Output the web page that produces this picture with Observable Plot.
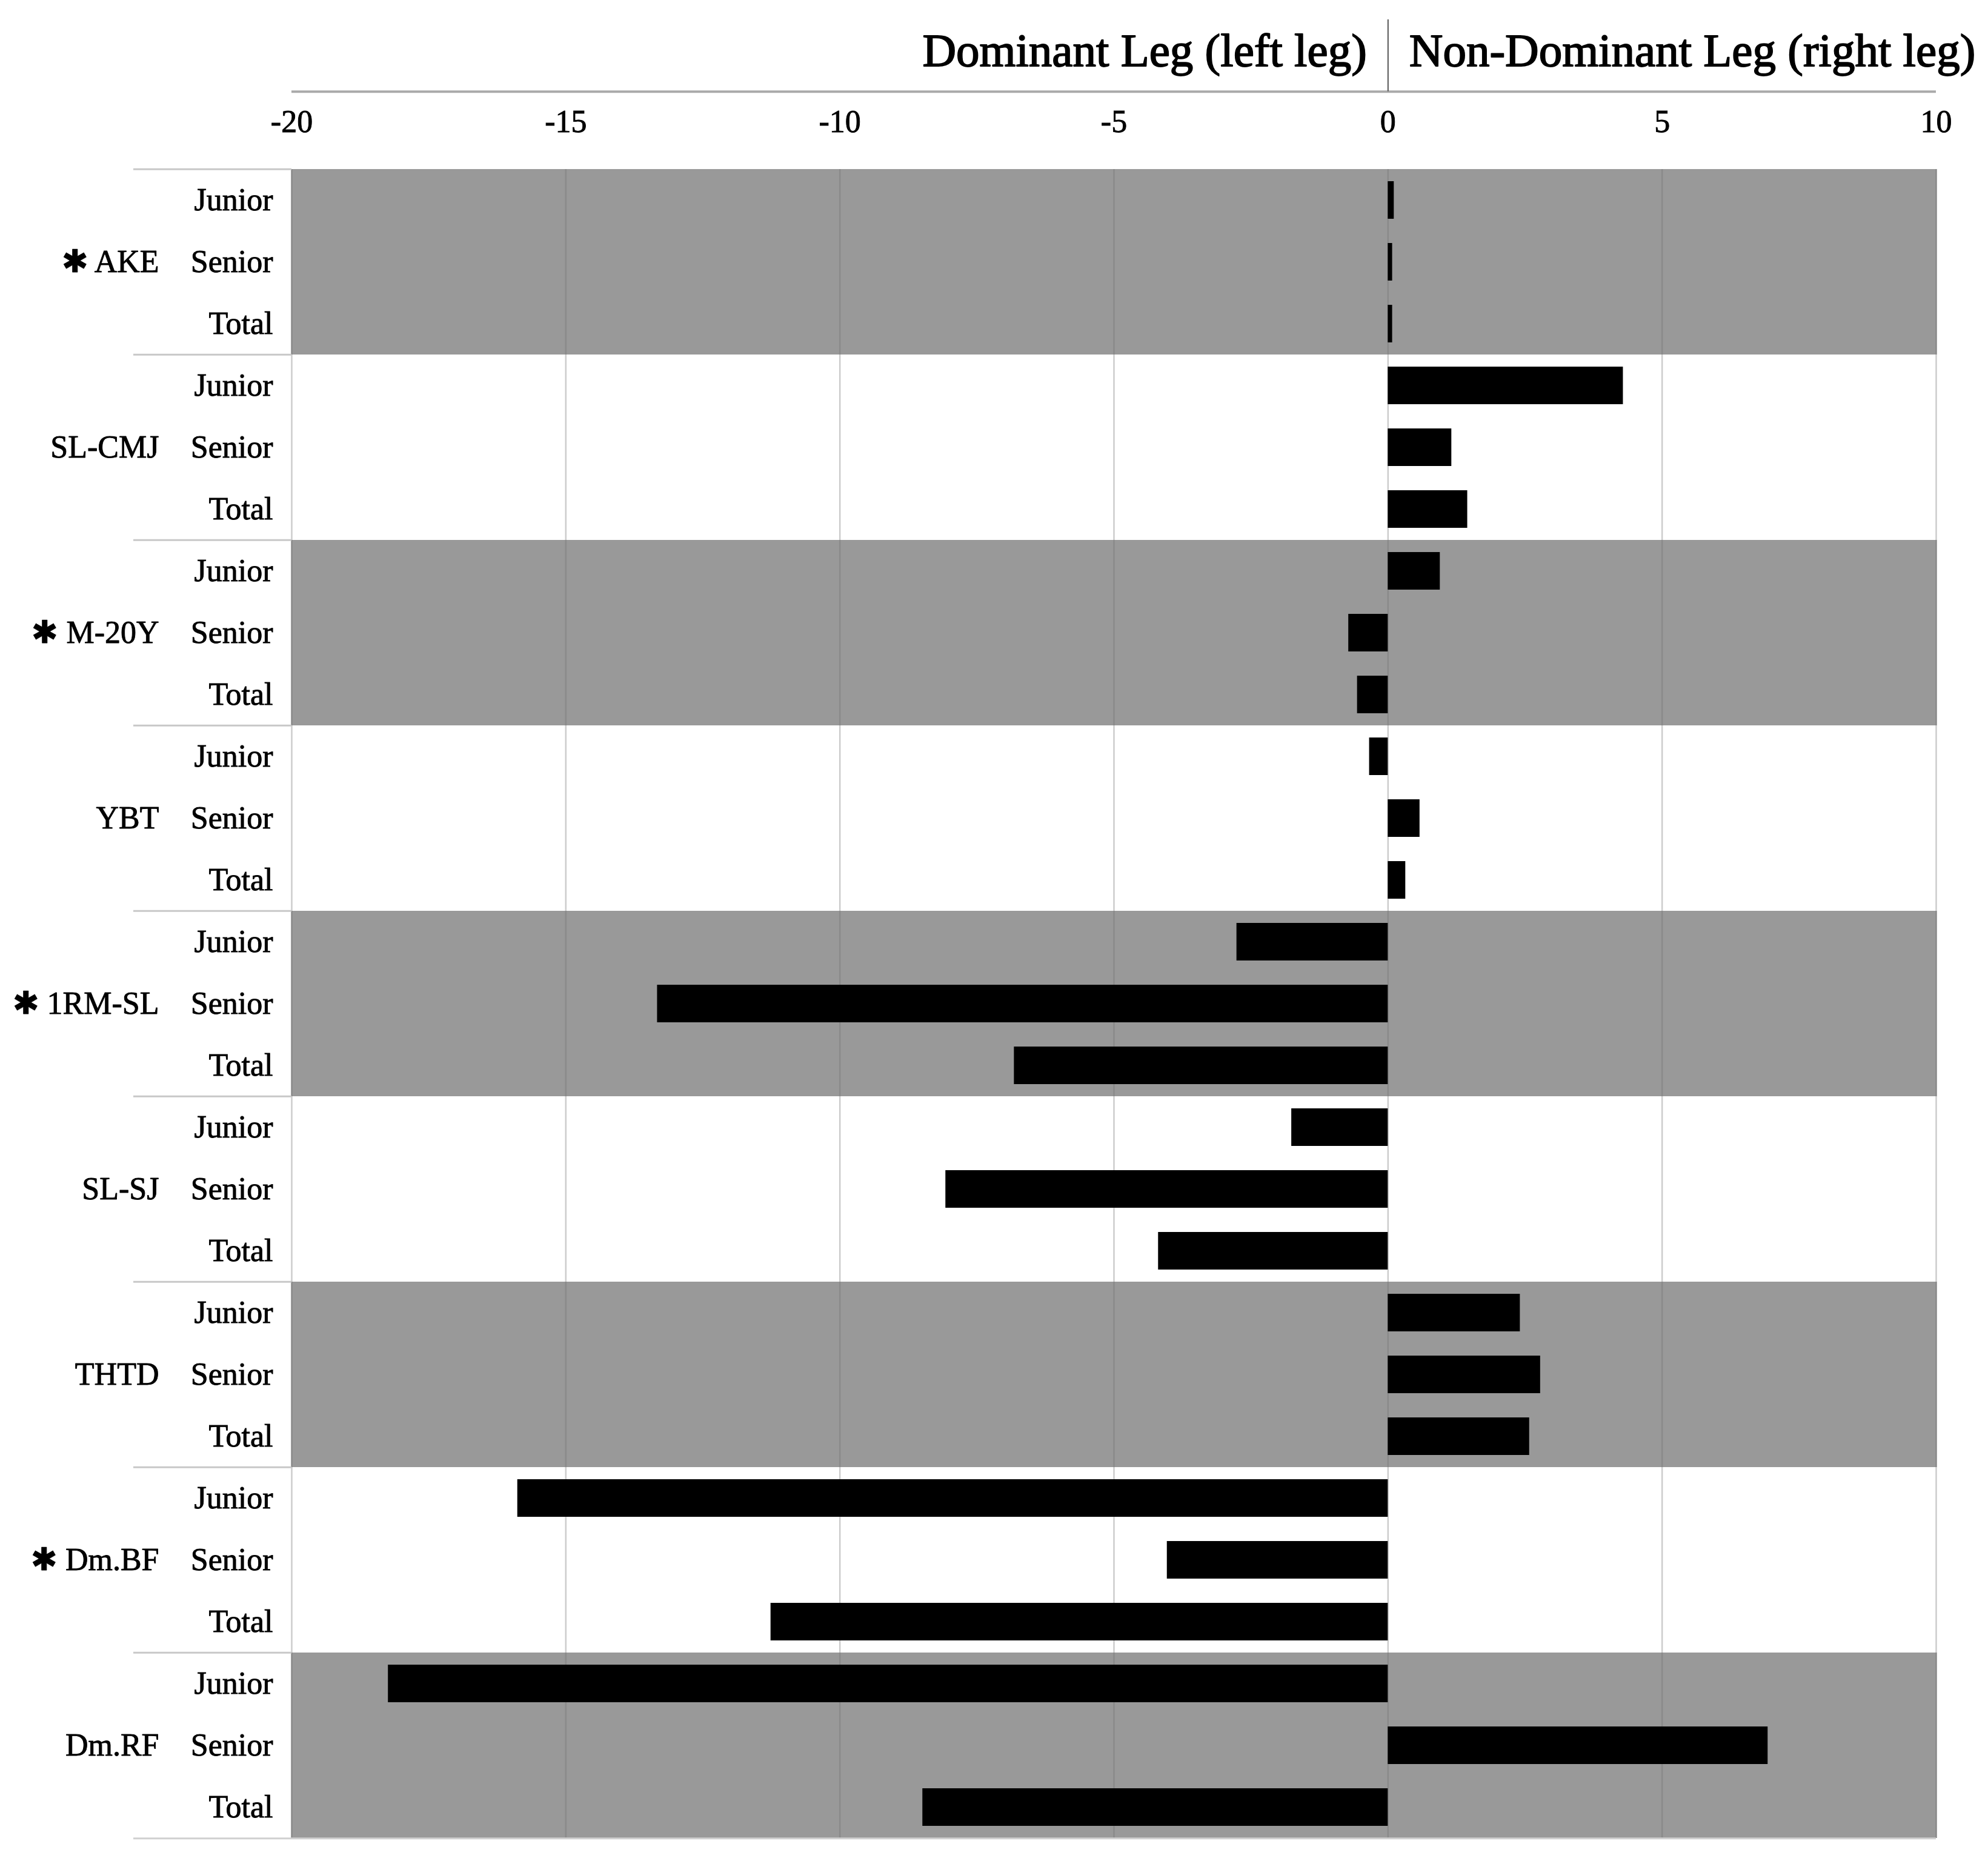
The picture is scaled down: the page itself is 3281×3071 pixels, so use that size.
<!DOCTYPE html>
<html><head><meta charset="utf-8">
<script src="https://cdn.jsdelivr.net/npm/d3@7"></script>
<script src="https://cdn.jsdelivr.net/npm/@observablehq/plot@0.6"></script>
<style>
html,body{margin:0;padding:0;background:#fff}
#chart svg g[aria-label*="axis"] text{stroke:#000;stroke-width:0.9px}
</style>
</head><body><div id="chart"></div>
<script>
const measures = ["AKE", "SL-CMJ", "M-20Y", "YBT", "1RM-SL", "SL-SJ", "THTD", "Dm.BF", "Dm.RF"];
const significant = [true, false, true, false, true, false, false, true, false];
const cohorts = ["Junior", "Senior", "Total"];
const juniorValues = [0.11, 4.29, 0.95, -0.34, -2.76, -1.76, 2.41, -15.88, -18.24];
const seniorValues = [0.08, 1.16, -0.72, 0.58, -13.33, -8.07, 2.78, -4.03, 6.93];
const totalValues = [0.08, 1.45, -0.56, 0.32, -6.82, -4.19, 2.58, -11.26, -8.49];
const xDomain = [-20, 10];
const xTicks = [-20, -15, -10, -5, 0, 5, 10];
const leftHeader = ["Dominant Leg (left leg)"];
const rightHeader = ["Non-Dominant Leg (right leg)"];

const seriesByCohort = [juniorValues, seniorValues, totalValues];
const rows = measures.flatMap((m, i) => cohorts.map((c, j) => ({
  key: m + "|" + c, measure: m, cohort: c, group: i, value: seriesByCohort[j][i]
})));
const keys = rows.map(d => d.key);
const bandRows = rows.filter(d => d.group % 2 === 0);
const grid = rows.flatMap(r => xTicks.map(t => ({key: r.key, tick: t, shaded: r.group % 2 === 0})));
const firstRow = rows.slice(0, 1);
const groupTops = rows.filter(d => d.cohort === "Junior");
const lastRow = rows.slice(-1);

const W = 3281, H = 3071;
const mTop = 274, mBottom = 33, mLeft = 481, mRight = 86;
const bw = (H - mTop - mBottom) / keys.length;
const headerLineY = 146, dividerTop = 27;
const FONT = "'Liberation Serif', 'Times New Roman', 'DejaVu Serif', serif";

const chart = Plot.plot({
  width: W, height: H,
  marginTop: mTop, marginBottom: mBottom, marginLeft: mLeft, marginRight: mRight,
  style: {fontFamily: FONT, fontSize: "52px", color: "#000", background: "#fff"},
  x: {domain: xDomain, axis: "top", ticks: xTicks, tickFormat: d => String(d), tickSize: 0, tickPadding: 57, label: null},
  y: {domain: keys, axis: "left", padding: 0, tickSize: 0, tickPadding: 31, tickFormat: d => d.split("|")[1], label: null},
  marks: [
    Plot.barX(bandRows, {y: "key", x1: xDomain[0], x2: xDomain[1], fill: "#999999"}),
    Plot.tickX(grid.filter(d => !d.shaded), {x: "tick", y: "key", stroke: "#cccccc", strokeWidth: 2.5}),
    Plot.tickX(grid.filter(d => d.shaded), {x: "tick", y: "key", stroke: "#8a8a8a", strokeWidth: 2.5}),
    Plot.barX(rows, {y: "key", x1: 0, x2: "value", fill: "#000", insetTop: 20, insetBottom: 20}),
    // left separators between groups
    Plot.ruleY(groupTops, {y: "key", x1: xDomain[0], x2: xDomain[0], dy: -bw / 2, insetLeft: -261, stroke: "#c8c8c8", strokeWidth: 3}),
    Plot.ruleY(lastRow, {y: "key", x1: xDomain[0], x2: xDomain[1], dy: bw / 2, insetLeft: -261, stroke: "#d0d0d0", strokeWidth: 3}),
    // group labels
    Plot.text(rows.filter(d => d.cohort === "Senior"), {
      y: "key", frameAnchor: "left", dx: -219, textAnchor: "end", fontSize: 52,
      fill: "#000", stroke: "#000", strokeWidth: 0.9,
      text: d => (significant[d.group] ? "\u2731 " : "") + d.measure
    }),
    // header line and divider
    Plot.ruleY(firstRow, {y: "key", x1: xDomain[0], x2: xDomain[1], dy: -(mTop + bw / 2 - headerLineY), stroke: "#aaaaaa", strokeWidth: 4}),
    Plot.tickX(firstRow, {x: 0, y: "key", insetTop: -(mTop - dividerTop), insetBottom: bw + (mTop - headerLineY), stroke: "#555", strokeWidth: 2}),
    Plot.text(leftHeader, {x: 0, frameAnchor: "top", dy: -220, dx: -35, textAnchor: "end", text: d => d, fontSize: 77, fill: "#000", stroke: "#000", strokeWidth: 1.8}),
    Plot.text(rightHeader, {x: 0, frameAnchor: "top", dy: -220, dx: 35, textAnchor: "start", text: d => d, fontSize: 77, fill: "#000", stroke: "#000", strokeWidth: 1.8})
  ]
});
document.getElementById("chart").appendChild(chart);
</script>
</body></html>
